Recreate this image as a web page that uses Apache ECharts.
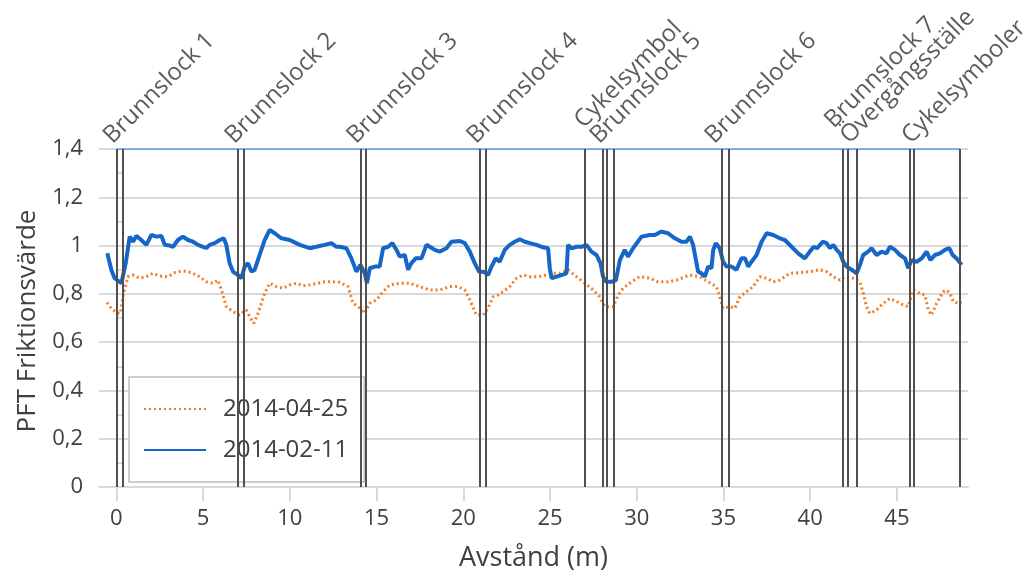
<!DOCTYPE html>
<html><head><meta charset="utf-8">
<script src="https://cdn.jsdelivr.net/npm/echarts@6/dist/echarts.min.js"></script>
<style>html,body{margin:0;padding:0;background:#fff}#c{width:1026px;height:571px}</style>
</head><body><div id="c"></div>
<script>
// 2014-04-25 (orange, dotted)
const dist0425 = [-0.54,-0.29,0.00,0.23,0.42,0.67,0.96,1.34,1.73,2.11,2.50,2.98,3.36,3.84,4.33,4.80,5.19,5.57,5.86,6.06,6.34,6.73,7.11,7.50,7.73,7.92,8.17,8.55,8.84,9.23,9.61,10.00,10.38,10.76,11.15,11.63,12.01,12.49,12.88,13.36,13.65,13.93,14.32,14.61,14.99,15.38,15.76,16.34,16.92,17.49,18.07,18.64,19.22,19.70,20.09,20.38,20.76,21.14,21.43,21.72,22.01,22.30,22.68,23.07,23.45,23.84,24.31,24.80,25.09,25.57,26.04,26.53,27.01,27.49,27.87,28.16,28.64,28.93,29.21,29.70,30.18,30.76,31.23,31.81,32.30,33.07,33.64,34.12,34.60,34.79,34.98,35.37,35.66,35.95,36.33,36.71,37.10,37.49,37.87,38.25,38.83,39.41,39.98,40.56,40.95,41.33,41.72,41.82,42.00,42.45,42.87,43.06,43.25,43.44,43.83,44.22,44.60,44.99,45.37,45.65,45.95,46.33,46.62,46.81,47.00,47.29,47.67,47.87,48.06,48.25,48.54,48.73];
const fric0425 = [0.764,0.740,0.722,0.719,0.802,0.871,0.878,0.865,0.871,0.885,0.874,0.871,0.888,0.895,0.888,0.871,0.850,0.844,0.857,0.816,0.747,0.726,0.712,0.733,0.699,0.678,0.719,0.802,0.844,0.830,0.823,0.837,0.844,0.833,0.837,0.844,0.850,0.850,0.848,0.830,0.761,0.747,0.719,0.761,0.775,0.809,0.837,0.844,0.844,0.830,0.816,0.816,0.830,0.830,0.816,0.775,0.712,0.712,0.740,0.788,0.795,0.809,0.830,0.865,0.878,0.871,0.871,0.878,0.885,0.885,0.900,0.871,0.844,0.816,0.788,0.747,0.747,0.795,0.823,0.850,0.871,0.865,0.850,0.850,0.857,0.878,0.871,0.850,0.830,0.788,0.740,0.747,0.740,0.788,0.809,0.830,0.871,0.865,0.850,0.857,0.885,0.888,0.892,0.900,0.892,0.871,0.857,0.850,0.871,0.865,0.850,0.802,0.747,0.719,0.733,0.761,0.781,0.768,0.754,0.747,0.816,0.802,0.795,0.733,0.712,0.761,0.809,0.816,0.802,0.768,0.761,0.768];
// 2014-02-11 (blue, solid)
const dist0211 = [-0.52,-0.29,-0.10,0.29,0.54,0.77,0.96,1.15,1.44,1.73,2.02,2.30,2.60,2.79,3.07,3.27,3.55,3.84,4.13,4.42,4.71,5.00,5.19,5.38,5.67,5.96,6.19,6.34,6.53,6.73,7.01,7.21,7.40,7.59,7.79,7.98,8.26,8.55,8.84,9.13,9.52,10.00,10.57,11.15,11.53,12.01,12.40,12.69,12.88,13.26,13.55,13.84,14.07,14.32,14.45,14.61,14.90,15.18,15.38,15.67,15.92,16.15,16.34,16.63,16.82,17.01,17.26,17.59,17.88,18.07,18.36,18.64,19.03,19.32,19.80,20.09,20.38,20.66,20.91,21.18,21.43,21.63,21.87,22.10,22.39,22.68,22.97,23.26,23.55,23.84,24.22,24.60,24.89,24.99,25.09,25.37,25.66,25.95,26.04,26.24,26.53,26.82,27.10,27.39,27.68,27.91,28.06,28.25,28.55,28.80,29.03,29.31,29.50,29.79,30.28,30.76,31.04,31.43,31.81,32.20,32.58,32.87,33.07,33.25,33.35,33.54,33.74,33.93,34.12,34.31,34.41,34.56,34.79,34.98,35.18,35.47,35.75,36.04,36.24,36.43,36.62,36.91,37.20,37.49,37.87,38.25,38.54,38.93,39.31,39.69,39.98,40.21,40.40,40.72,40.95,41.14,41.33,41.53,41.72,41.91,42.10,42.39,42.68,42.87,43.06,43.34,43.54,43.83,44.12,44.40,44.60,44.89,45.18,45.47,45.65,45.85,46.14,46.43,46.71,46.94,47.19,47.48,47.77,48.02,48.21,48.44,48.73];
const fric0211 = [0.968,0.900,0.865,0.844,0.927,1.037,1.016,1.040,1.023,1.003,1.044,1.037,1.040,1.003,1.000,0.995,1.023,1.037,1.023,1.016,1.003,0.995,0.990,1.003,1.010,1.023,1.030,1.003,0.927,0.892,0.878,0.865,0.913,0.927,0.892,0.900,0.961,1.023,1.065,1.051,1.030,1.023,1.003,0.989,0.995,1.003,1.010,0.995,0.995,0.989,0.947,0.892,0.920,0.885,0.844,0.906,0.913,0.913,0.989,0.995,1.010,0.982,0.954,0.961,0.900,0.927,0.947,0.947,1.003,0.995,0.982,0.975,0.989,1.016,1.019,1.010,0.975,0.927,0.892,0.892,0.878,0.913,0.947,0.933,0.982,1.003,1.016,1.026,1.016,1.010,1.003,0.993,0.989,0.906,0.865,0.871,0.878,0.885,1.003,0.989,0.995,0.995,1.003,0.975,0.961,0.927,0.871,0.850,0.850,0.857,0.940,0.982,0.954,0.989,1.037,1.044,1.044,1.058,1.051,1.030,1.016,1.016,1.037,1.003,0.995,0.892,0.885,0.871,0.913,0.906,0.982,1.010,0.989,0.933,0.913,0.913,0.900,0.947,0.947,0.913,0.933,0.961,1.016,1.051,1.044,1.030,1.023,0.995,0.968,0.947,0.975,0.995,0.989,1.016,1.010,0.989,1.003,0.982,0.968,0.933,0.913,0.900,0.885,0.920,0.961,0.975,0.989,0.961,0.975,0.968,0.995,0.982,0.961,0.947,0.906,0.940,0.933,0.947,0.975,0.940,0.961,0.968,0.982,0.989,0.961,0.947,0.920];
// Marker positions (m) and labels
const markerLines = [0.04,0.36,7.01,7.32,14.07,14.38,20.95,21.30,27.00,28.05,28.28,28.66,34.93,35.33,41.87,42.16,42.71,45.72,46.00,48.63];
const markerTop = 1.4;
const markerLabelX = [0.04,7.05,14.07,20.99,28.09,34.73,42.52,46.07];
const markerLabels = ['Brunnslock 1','Brunnslock 2','Brunnslock 3','Brunnslock 4','Cykelsymbol\nBrunnslock 5','Brunnslock 6','Brunnslock 7\nÖvergångsställe','Cykelsymboler'];
const xTicks = [0,5,10,15,20,25,30,35,40,45];
const seriesNames = ['2014-04-25','2014-02-11'];

const FONT = '"Open Sans", sans-serif';
const TXT = '#404040';
const GRIDC = '#d9d9d9';
const chart = echarts.init(document.getElementById('c'));
const pairs = (xs, ys) => xs.map((x, i) => [x, ys[i]]);

chart.setOption({
  animation: false,
  textStyle: { fontFamily: FONT },
  grid: { left: 99, right: 58, top: 149, bottom: 84, containLabel: false, outerBoundsMode: 'none' },
  xAxis: {
    type: 'value', min: -1, max: 49.1,
    name: 'Avstånd (m)', nameLocation: 'middle', nameGap: 58,
    nameTextStyle: { fontSize: 27, color: TXT, fontFamily: FONT },
    axisLine: { lineStyle: { color: GRIDC, width: 2 } },
    axisTick: { show: true, customValues: xTicks, length: 14, lineStyle: { color: GRIDC, width: 2 } },
    axisLabel: { customValues: xTicks, fontSize: 22, color: TXT, margin: 21, fontFamily: FONT },
    splitLine: { show: false }
  },
  yAxis: {
    type: 'value', min: 0, max: 1.4, interval: 0.2,
    name: 'PFT Friktionsvärde', nameLocation: 'middle', nameGap: 58,
    nameTextStyle: { fontSize: 26, color: TXT, fontFamily: FONT, padding: [0, 6, 0, 0] },
    axisLine: { show: true, lineStyle: { color: GRIDC, width: 2 } },
    axisTick: { show: false, inside: true },
    minorTick: { show: true, splitNumber: 2, length: 6, lineStyle: { color: GRIDC, width: 2 } },
    axisLabel: { fontSize: 22, color: TXT, margin: 16, fontFamily: FONT,
      formatter: v => String(+v.toFixed(1)).replace('.', ',') },
    splitLine: { lineStyle: { color: GRIDC, width: 2 } }
  },
  legend: {
    orient: 'vertical', left: 129, top: 377,
    padding: [19, 16, 19, 14], itemGap: 15, itemWidth: 62, itemHeight: 14,
    backgroundColor: '#fff', borderColor: '#bfbfbf', borderWidth: 1.5, borderRadius: 0,
    itemStyle: { opacity: 0 },
    textStyle: { fontSize: 24, color: TXT, padding: [0, 0, 0, 12], lineHeight: 26, fontFamily: FONT },
    data: seriesNames
  },
  series: [
    {
      name: 'markers', type: 'line', silent: true, symbol: 'none',
      data: markerLines.map(x => [x, markerTop]),
      lineStyle: { color: '#4a96e8', width: 1.5 }, z: 2,
      markLine: {
        silent: true, symbol: 'none', label: { show: false },
        lineStyle: { color: '#505050', width: 2, type: 'solid' },
        data: markerLines.map(x => ({ xAxis: x }))
      }
    },
    {
      name: 'labels', type: 'scatter', silent: true, clip: false,
      symbolSize: 1, itemStyle: { color: 'rgba(0,0,0,0)' },
      data: markerLabelX.map(x => [x, markerTop]),
      label: {
        show: true, position: [-1, -1], rotate: 45, align: 'left', verticalAlign: 'bottom',
        fontSize: 24, lineHeight: 22, color: '#333', fontFamily: FONT,
        formatter: p => markerLabels[p.dataIndex]
      }, z: 5
    },
    {
      name: seriesNames[0], type: 'line', symbol: 'none', z: 3,
      data: pairs(dist0425, fric0425),
      lineStyle: { color: '#f47a20', width: 3, type: [2, 3] },
      itemStyle: { color: '#f47a20' }
    },
    {
      name: seriesNames[1], type: 'line', symbol: 'none', z: 4,
      data: pairs(dist0211, fric0211),
      lineStyle: { color: '#1466c8', width: 4 },
      itemStyle: { color: '#1466c8' }
    }
  ]
});
</script>
</body></html>
